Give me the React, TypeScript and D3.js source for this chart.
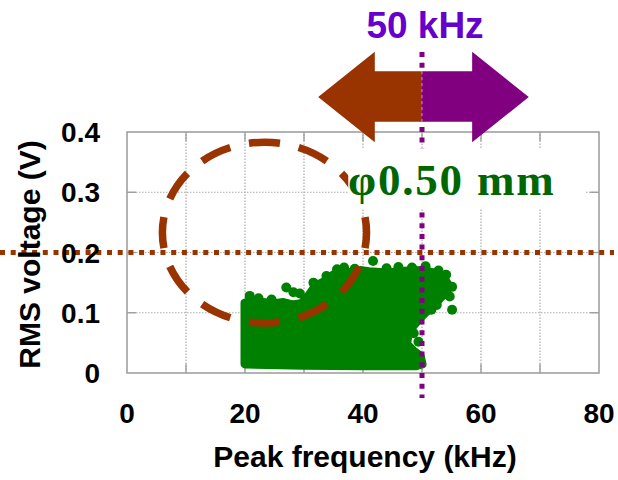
import * as d3 from 'd3'

// x ticks (kHz) and y ticks (V)
const xTicks = [0, 20, 40, 60, 80]
const yTicks = [0, 0.1, 0.2, 0.3, 0.4]
const xGrid = [10, 20, 30, 40, 50, 60, 70]
const yGrid = [0.1, 0.2, 0.3]

// saturated scatter cloud outline [kHz, V]
const cloudOutline: [number, number][] = [
  [20, 0.015], [20, 0.116], [21, 0.119], [23, 0.117], [25, 0.115], [26.5, 0.117],
  [28, 0.113], [29.5, 0.115], [30.5, 0.124], [31.5, 0.138], [32.5, 0.147],
  [33.5, 0.152], [35, 0.163], [36.5, 0.167], [38, 0.167], [39.5, 0.17],
  [41, 0.168], [43, 0.167], [45, 0.167], [47, 0.169], [49, 0.17], [50.5, 0.169],
  [52, 0.166], [53.5, 0.16], [54.3, 0.148], [54.2, 0.135], [53, 0.124],
  [52, 0.112], [50.5, 0.1], [49.5, 0.09], [48.3, 0.076], [47.6, 0.062],
  [47.4, 0.048], [48.5, 0.037], [49.7, 0.028], [50, 0.015], [49, 0.012],
  [40, 0.012], [30, 0.013]
]

// loose points sticking out of the cloud
const loosePoints: [number, number][] = [
  [41.7, 0.186], [27, 0.142], [28.2, 0.134], [29.3, 0.132], [20.8, 0.128],
  [22.3, 0.124], [24.5, 0.122], [33.8, 0.161], [31.6, 0.15], [35.6, 0.172],
  [36.8, 0.175], [38.6, 0.173], [44, 0.174], [46, 0.176], [48.3, 0.175],
  [50.6, 0.177], [52.8, 0.17], [54.1, 0.163], [55.1, 0.143], [54.7, 0.127],
  [55.1, 0.105], [52.5, 0.113], [51.6, 0.105], [48.6, 0.066], [49.4, 0.052]
]

const markerFreq = 50 // kHz
const thresholdV = 0.2

// dashed ellipse annotation (centre / radii in data units)
const ellipseC = [23.3, 0.233]
const ellipseR = [17.3, 0.15]

// double arrow above the plot [kHz, V]
const leftArrow: [number, number][] = [
  [32.4, 0.458], [42, 0.533], [42, 0.501], [50, 0.501], [50, 0.417], [42, 0.417], [42, 0.383]
]
const rightArrow: [number, number][] = [
  [68.1, 0.458], [58.5, 0.533], [58.5, 0.501], [50, 0.501], [50, 0.417], [58.5, 0.417], [58.5, 0.383]
]

const W = 618
const H = 480
const font = '"Liberation Sans", Arial, sans-serif'

export default function App() {
  const x = d3.scaleLinear().domain([0, 80]).range([127, 599])
  const y = d3.scaleLinear().domain([0, 0.4]).range([373, 132])

  const line = d3.line<[number, number]>().x(d => x(d[0])).y(d => y(d[1]))
  const cloudPath = line(cloudOutline) + 'Z'
  const lArrow = line(leftArrow) + 'Z'
  const rArrow = line(rightArrow) + 'Z'

  const x0 = x(0), x1 = x(80), y0 = y(0), y1 = y(0.4)
  const tick = 9

  return (
    <svg width={W} height={H} style={{ position: 'absolute', left: 0, top: 0, background: '#fff' }}>
      {/* grid */}
      {xGrid.map(v => (
        <line key={'gx' + v} x1={x(v)} x2={x(v)} y1={y0} y2={y1}
          stroke="#aaa" strokeWidth={1.2} strokeDasharray="1.5 1.5" />
      ))}
      {yGrid.map(v => (
        <line key={'gy' + v} y1={y(v)} y2={y(v)} x1={x0} x2={x1}
          stroke="#aaa" strokeWidth={1.2} strokeDasharray="1.5 1.5" />
      ))}
      {/* inward ticks on all sides */}
      {xGrid.map(v => (
        <g key={'tx' + v}>
          <line x1={x(v)} x2={x(v)} y1={y0} y2={y0 - tick} stroke="#999" strokeWidth={1.3} />
          <line x1={x(v)} x2={x(v)} y1={y1} y2={y1 + tick} stroke="#999" strokeWidth={1.3} />
        </g>
      ))}
      {yGrid.map(v => (
        <g key={'ty' + v}>
          <line y1={y(v)} y2={y(v)} x1={x0} x2={x0 + tick} stroke="#999" strokeWidth={1.3} />
          <line y1={y(v)} y2={y(v)} x1={x1} x2={x1 - tick} stroke="#999" strokeWidth={1.3} />
        </g>
      ))}
      <rect x={x0} y={y1} width={x1 - x0} height={y0 - y1} fill="none" stroke="#a0a0a0" strokeWidth={1.6} />

      {/* scatter cloud */}
      <path d={cloudPath} fill="#008000" stroke="#008000" strokeWidth={9} strokeLinejoin="round" />
      {loosePoints.map((p, i) => (
        <circle key={i} cx={x(p[0])} cy={y(p[1])} r={5} fill="#008000" />
      ))}

      {/* dashed ellipse */}
      <ellipse cx={x(ellipseC[0])} cy={y(ellipseC[1])}
        rx={x(ellipseC[0] + ellipseR[0]) - x(ellipseC[0])}
        ry={y(ellipseC[1]) - y(ellipseC[1] + ellipseR[1])}
        fill="none" stroke="#993300" strokeWidth={7.5}
        pathLength={120} strokeDasharray="6.2 3.8" strokeDashoffset={3.1} />

      {/* 0.2 V threshold */}
      <line x1={0} x2={614} y1={y(thresholdV)} y2={y(thresholdV)}
        stroke="#993300" strokeWidth={5} strokeDasharray="5 5.7" />

      {/* 50 kHz marker */}
      <line x1={x(markerFreq)} x2={x(markerFreq)} y1={52} y2={398}
        stroke="#800080" strokeWidth={5} strokeDasharray="5 5.7" />

      {/* label box */}
      <rect x={x(37.5)} y={y(0.373)} width={x(77.8) - x(37.5)} height={y(0.274) - y(0.373)} fill="#fff" />
      <text x={348} y={195} fontFamily='"Liberation Serif", "Times New Roman", serif'
        fontWeight="bold" fontSize={45} letterSpacing={1.8} fill="#006600">φ0.50 mm</text>

      {/* arrows */}
      <path d={lArrow} fill="#993300" />
      <path d={rArrow} fill="#800080" />
      <line x1={x(markerFreq)} x2={x(markerFreq)} y1={y(0.501)} y2={y(0.417)}
        stroke="#fff" strokeWidth={0.8} strokeDasharray="3 3" opacity={0.7} />
      <text x={x(markerFreq) + 3} y={38} textAnchor="middle" fontFamily={font}
        fontWeight="bold" fontSize={37} fill="#6600cc">50 kHz</text>

      {/* tick labels */}
      {xTicks.map(v => (
        <text key={'lx' + v} x={x(v)} y={423} textAnchor="middle" fontFamily={font}
          fontWeight="bold" fontSize={28} fill="#000">{v}</text>
      ))}
      {yTicks.map(v => (
        <text key={'ly' + v} x={100} y={y(v) + 10} textAnchor="end" fontFamily={font}
          fontWeight="bold" fontSize={28} fill="#000">{v === 0 ? '0' : v.toFixed(1)}</text>
      ))}

      {/* axis titles */}
      <text x={(x0 + x1) / 2 + 2} y={467} textAnchor="middle" fontFamily={font}
        fontWeight="bold" fontSize={30} fill="#000">Peak frequency (kHz)</text>
      <text transform={`translate(40,${(y0 + y1) / 2 + 2}) rotate(-90)`} textAnchor="middle"
        fontFamily={font} fontWeight="bold" fontSize={30} fill="#000">RMS voltage (V)</text>
    </svg>
  )
}
